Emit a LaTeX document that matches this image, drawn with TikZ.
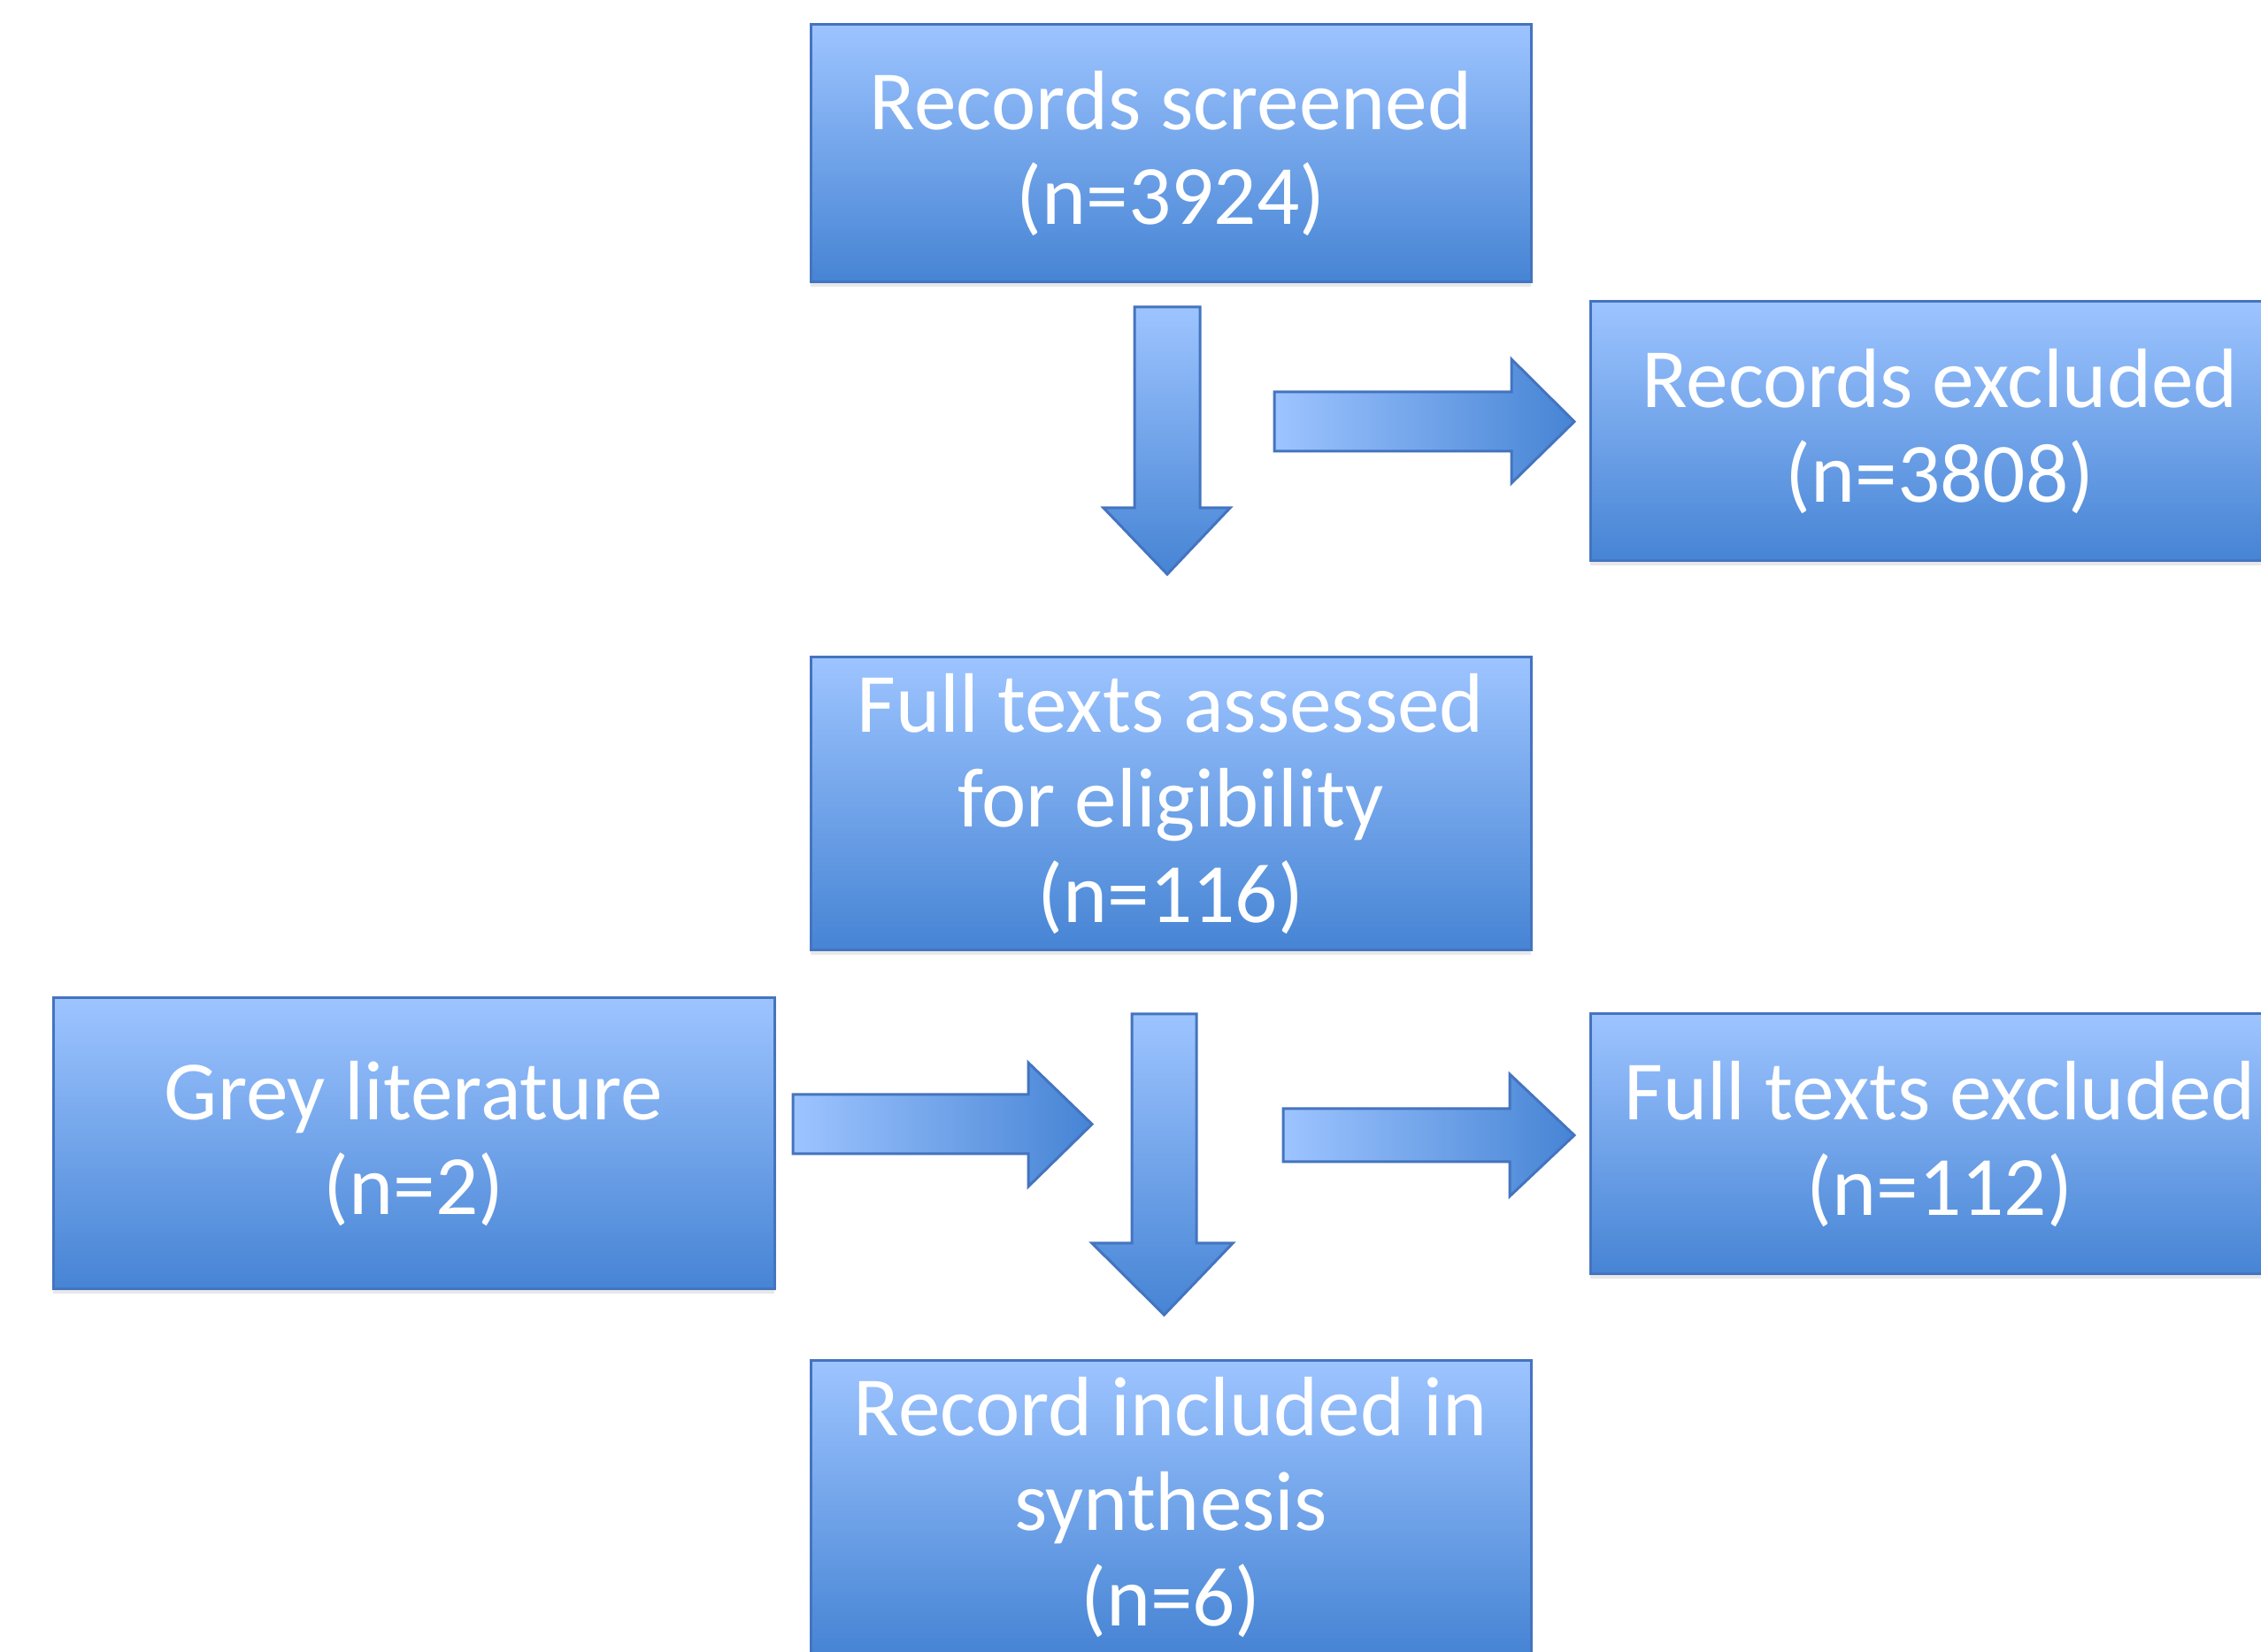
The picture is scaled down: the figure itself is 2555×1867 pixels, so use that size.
\documentclass[tikz,border=0pt]{standalone}
\usepackage{fontspec}
\setmainfont{Carlito}
\usetikzlibrary{shadows}
\definecolor{boxlight}{RGB}{157,196,255}
\definecolor{boxdark}{RGB}{70,132,212}
\definecolor{boxedge}{RGB}{68,116,192}
\tikzset{
  flowbox/.style={rectangle, draw=boxedge, line width=0.9pt,
    top color=boxlight, bottom color=boxdark,
    text=white, align=center, inner sep=0pt,
    font=\fontsize{28.6}{32.3}\selectfont,
    drop shadow={opacity=0.18, shadow xshift=0pt, shadow yshift=-1.5pt}},
  downarrow/.style={draw=boxedge, line width=0.9pt, line join=miter,
    top color=boxlight, bottom color=boxdark},
  rightarrow/.style={draw=boxedge, line width=0.9pt, line join=miter,
    left color=boxlight, right color=boxdark}
}
\begin{document}
\begin{tikzpicture}[x=0.3pt, y=0.3pt]
\useasboundingbox (0,0) rectangle (2555,1867);
\fill[white] (0,0) rectangle (2555,1867);

% boxes
\node[flowbox, minimum width=814*0.3pt, minimum height=291*0.3pt] (screened) at (1323,1693.5)
  {Records screened\\(n=3924)};
\node[flowbox, minimum width=790*0.3pt, minimum height=293*0.3pt] (recexcl) at (2192,1379.5)
  {Records excluded\\(n=3808)};
\node[flowbox, minimum width=814*0.3pt, minimum height=331*0.3pt] (fulltexts) at (1323,958.5)
  {Full texts assessed\\for eligibility\\(n=116)};
\node[flowbox, minimum width=815*0.3pt, minimum height=329*0.3pt] (grey) at (467.5,574.5)
  {Grey literature\\(n=2)};
\node[flowbox, minimum width=790*0.3pt, minimum height=294*0.3pt] (ftexcl) at (2192,574)
  {Full texts excluded\\(n=112)};
\node[flowbox, minimum width=814*0.3pt, minimum height=331*0.3pt] (included) at (1323,163.5)
  {Record included in\\synthesis\\(n=6)};

% block arrows between the boxes
% screened -> full texts
\path[downarrow] (1282,1520) -- (1356,1520) -- (1356,1293) -- (1390,1293)
  -- (1319,1218) -- (1247,1293) -- (1282,1293) -- cycle;
% screened -> records excluded
\path[rightarrow] (1440,1424) -- (1708,1424) -- (1708,1461) -- (1779,1390.5)
  -- (1708,1321) -- (1708,1357) -- (1440,1357) -- cycle;
% grey literature -> included
\path[rightarrow] (896,630) -- (1162,630) -- (1162,666) -- (1234,596.5)
  -- (1162,526) -- (1162,563) -- (896,563) -- cycle;
% full texts -> included
\path[downarrow] (1279,721) -- (1352,721) -- (1352,462) -- (1393,462)
  -- (1315.5,381) -- (1234,462) -- (1279,462) -- cycle;
% full texts -> full texts excluded
\path[rightarrow] (1450,614) -- (1706,614) -- (1706,653) -- (1779,584)
  -- (1706,515) -- (1706,554) -- (1450,554) -- cycle;
\end{tikzpicture}
\end{document}
